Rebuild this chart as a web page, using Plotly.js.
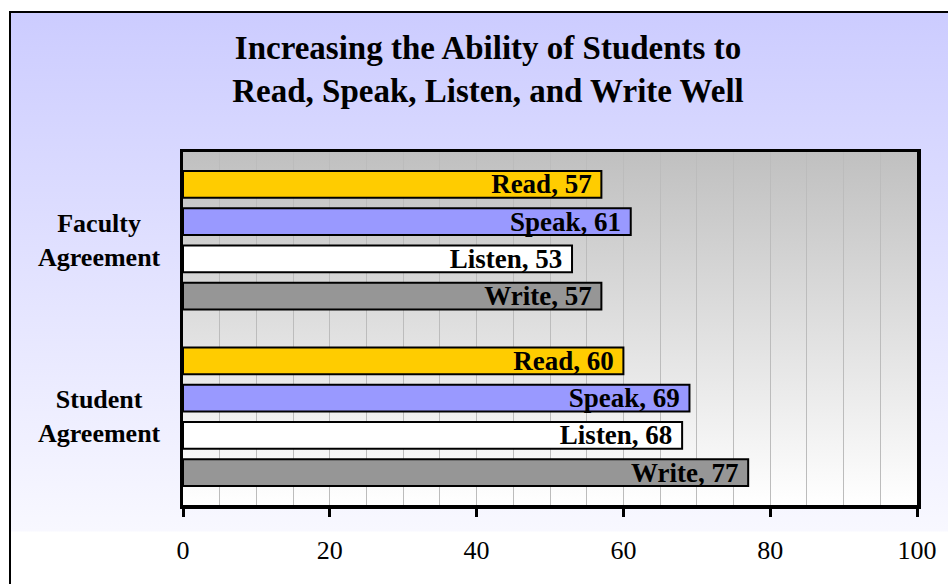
<!DOCTYPE html>
<html><head><meta charset="utf-8">
<script src="https://cdn.plot.ly/plotly-3.0.1.min.js"></script>
<style>
html,body{margin:0;padding:0;background:#fff;overflow:hidden;}
#frame{position:absolute;left:9px;top:11px;width:1000px;height:700px;border:2.5px solid #000;
  background:linear-gradient(to bottom,#ccccff 0px,#f8f8ff 518px,#ffffff 519px);}
#chart{position:absolute;left:0;top:0;width:948px;height:584px;}
</style></head><body>
<div id="frame"></div><div id="chart"></div>
<script>
const categories = ['Faculty Agreement', 'Student Agreement'];
const categoryLabels = ['Faculty<br>Agreement', 'Student<br>Agreement'];
const skills = ['Read', 'Speak', 'Listen', 'Write'];
const readValues = [57, 60];
const speakValues = [61, 69];
const listenValues = [53, 68];
const writeValues = [57, 77];
const skillColors = ['#FFCC00', '#9999FF', '#FFFFFF', '#969696'];
const xTicks = [0, 20, 40, 60, 80, 100];

const seriesValues = [readValues, speakValues, listenValues, writeValues];
const serif = 'Liberation Serif, Times New Roman, serif';

const traces = skills.map((name, i) => ({
  type: 'bar',
  orientation: 'h',
  name: name,
  y: categories,
  x: seriesValues[i],
  text: categories.map(() => name),
  marker: {color: skillColors[i], line: {color: '#000', width: 2}},
  texttemplate: '%{text}, %{x}\u00a0',
  textposition: 'inside',
  insidetextanchor: 'end',
  textangle: 0,
  constraintext: 'none',
  textfont: {family: serif, size: 27, color: '#000', weight: 'bold'},
  hoverinfo: 'x+y+name',
  cliponaxis: false
}));

const gradSvg = "<svg xmlns='http://www.w3.org/2000/svg' viewBox='0 0 10 100' width='10' height='100' preserveAspectRatio='none'>" +
  "<defs><linearGradient id='g' x1='0' y1='0' x2='0' y2='1'><stop offset='0' stop-color='#c0c0c0'/>" +
  "<stop offset='1' stop-color='#ffffff'/></linearGradient></defs><rect width='10' height='100' fill='url(#g)'/></svg>";

const layout = {
  width: 948, height: 584,
  margin: {l: 183, r: 31, t: 152, b: 79},
  paper_bgcolor: 'rgba(0,0,0,0)',
  plot_bgcolor: 'rgba(0,0,0,0)',
  showlegend: false,
  barmode: 'group',
  bargap: 0.157,
  bargroupgap: 0.28,
  font: {family: serif, color: '#000'},
  title: {
    text: 'Increasing the Ability of Students to<br>Read, Speak, Listen, and Write Well',
    font: {family: serif, size: 33, weight: 'bold', color: '#000'},
    xref: 'container', x: 488 / 948, xanchor: 'center',
    yref: 'container', y: 1 - 59 / 584, yanchor: 'top'
  },
  xaxis: {
    range: [0, 100], tickvals: xTicks, ticks: 'outside', ticklen: 8, tickwidth: 3, tickcolor: '#000',
    showline: true, linewidth: 3.5, linecolor: '#000', mirror: true,
    showgrid: true, gridcolor: '#bcbcbc', gridwidth: 1,
    minor: {dtick: 5, showgrid: true, gridcolor: '#bcbcbc', gridwidth: 1, ticks: ''},
    zeroline: false, tickfont: {family: serif, size: 26, color: '#000'}, ticklabelstandoff: 11,
    fixedrange: true
  },
  yaxis: {
    type: 'category', autorange: 'reversed', showticklabels: false, ticks: '',
    showline: true, linewidth: 3.5, linecolor: '#000', mirror: true,
    showgrid: false, zeroline: false, fixedrange: true
  },
  images: [{
    source: 'data:image/svg+xml;charset=utf-8,' + encodeURIComponent(gradSvg),
    xref: 'paper', yref: 'paper', x: 0, y: 1, sizex: 1, sizey: 1,
    xanchor: 'left', yanchor: 'top', sizing: 'stretch', layer: 'below'
  }],
  annotations: categoryLabels.map((t, i) => ({
    text: t, xref: 'paper', yref: 'y', x: -0.1144, y: i,
    xanchor: 'center', yanchor: 'middle', align: 'center', showarrow: false,
    font: {family: serif, size: 26, weight: 'bold', color: '#000'}
  }))
};

Plotly.newPlot('chart', traces, layout, {displayModeBar: false, staticPlot: true});
</script>
</body></html>
